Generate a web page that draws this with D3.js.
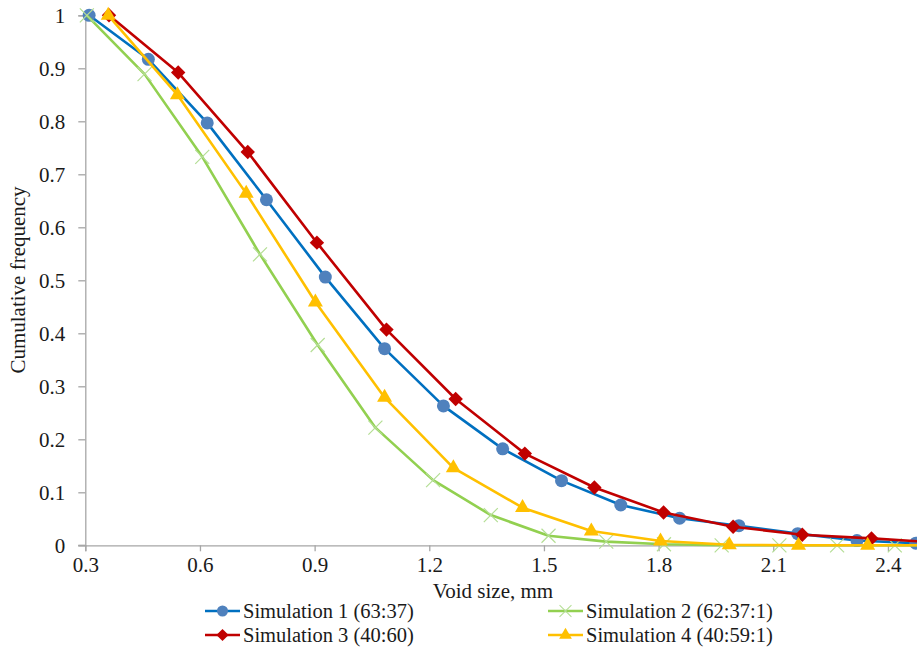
<!DOCTYPE html>
<html>
<head>
<meta charset="utf-8">
<script src="https://cdn.jsdelivr.net/npm/d3@7/dist/d3.min.js"></script>
<style>
  html, body { margin: 0; padding: 0; background: #fff; }
  svg { display: block; }
</style>
</head>
<body>
<svg id="chart" width="917" height="671"></svg>
<script>
// Void size (mm) and cumulative frequency for each simulation
const sim1X = [0.310, 0.465, 0.619, 0.774, 0.928, 1.083, 1.237, 1.392, 1.546, 1.701, 1.855, 2.010, 2.164, 2.319, 2.473];
const sim1Y = [1.000, 0.917, 0.797, 0.652, 0.506, 0.371, 0.263, 0.182, 0.122, 0.076, 0.051, 0.037, 0.022, 0.009, 0.004];

const sim2X = [0.304, 0.455, 0.606, 0.757, 0.908, 1.059, 1.210, 1.361, 1.512, 1.663, 1.814, 1.965, 2.116, 2.267, 2.418, 2.569];
const sim2Y = [1.000, 0.889, 0.733, 0.549, 0.378, 0.222, 0.123, 0.057, 0.018, 0.007, 0.002, 0.000, 0.000, 0.000, 0.000, 0.000];

const sim3X = [0.362, 0.543, 0.725, 0.906, 1.088, 1.269, 1.450, 1.632, 1.813, 1.995, 2.176, 2.357, 2.539];
const sim3Y = [1.000, 0.892, 0.742, 0.571, 0.407, 0.276, 0.173, 0.109, 0.062, 0.035, 0.020, 0.013, 0.005];

const sim4X = [0.360, 0.541, 0.721, 0.902, 1.083, 1.263, 1.444, 1.624, 1.805, 1.985, 2.166, 2.347, 2.527];
const sim4Y = [1.000, 0.850, 0.664, 0.459, 0.279, 0.146, 0.071, 0.027, 0.008, 0.001, 0.000, 0.000, 0.000];

const seriesNames = ["Simulation 1 (63:37)", "Simulation 2 (62:37:1)", "Simulation 3 (40:60)", "Simulation 4 (40:59:1)"];
const xTicks = [0.3, 0.6, 0.9, 1.2, 1.5, 1.8, 2.1, 2.4];
const yTicks = [0, 0.1, 0.2, 0.3, 0.4, 0.5, 0.6, 0.7, 0.8, 0.9, 1];
const xTitle = "Void size, mm";
const yTitle = "Cumulative frequency";

const FONT = "'Liberation Serif', 'Times New Roman', Times, 'DejaVu Serif', serif";
const TEXT_COLOR = "#1a1a1a";
const tickSize = 21;
const titleSize = 21;
const legendSize = 20.5;

const svg = d3.select("#chart");
const W = 917, H = 671;
svg.append("rect").attr("width", W).attr("height", H).attr("fill", "#fff");

const plot = { left: 85.3, top: 15.3, bottom: 545.3 };
const x = d3.scaleLinear().domain([0.3, 2.5]).range([plot.left, plot.left + 2.2 * 382.2]);
const y = d3.scaleLinear().domain([0, 1]).range([plot.bottom, plot.top]);

const axisColor = "#a6a6a6";

function styleText(sel, size) {
  sel.style("font-family", FONT).style("font-size", size + "px").style("fill", TEXT_COLOR);
}

// Axes
const gx = svg.append("g").attr("transform", `translate(0,${plot.bottom})`)
  .call(d3.axisBottom(x).tickValues(xTicks).tickSize(6).tickPadding(6).tickFormat(d3.format("")));
const gy = svg.append("g").attr("transform", `translate(${plot.left},0)`)
  .call(d3.axisLeft(y).tickValues(yTicks).tickSize(7).tickPadding(13).tickFormat(d => d === 0 || d === 1 ? String(d) : d3.format(".1f")(d)));

[gx, gy].forEach(g => {
  g.selectAll("path.domain").attr("stroke", axisColor).attr("stroke-width", 1.3);
  g.selectAll(".tick line").attr("stroke", axisColor).attr("stroke-width", 1.3);
  styleText(g.selectAll(".tick text"), tickSize);
});
// extend the x axis line left to meet the y ticks
gx.append("line").attr("x1", plot.left - 7).attr("x2", plot.left).attr("stroke", axisColor).attr("stroke-width", 1.3);

// Axis titles
styleText(svg.append("text").attr("x", 493).attr("y", 598).attr("text-anchor", "middle").text(xTitle), titleSize);
styleText(svg.append("text").attr("transform", "translate(25,280) rotate(-90)").attr("text-anchor", "middle").text(yTitle), titleSize);

// Marker shapes
const circlePath = d3.symbol().type(d3.symbolCircle).size(Math.PI * 6.5 * 6.5)();
const diamondPath = "M0,-7.2L7.2,0L0,7.2L-7.2,0Z";
const trianglePath = "M0,-8.6L7.5,4.4L-7.5,4.4Z";
const crossPath = "M-7,-7L7,7M-7,7L7,-7";

const series = [
  { name: seriesNames[0], xs: sim1X, ys: sim1Y, line: "#0070c0", marker: circlePath, fill: "#4f81bd", stroke: "none", sw: 0 },
  { name: seriesNames[1], xs: sim2X, ys: sim2Y, line: "#92d050", marker: crossPath, fill: "none", stroke: "#b4de95", sw: 1.2 },
  { name: seriesNames[2], xs: sim3X, ys: sim3Y, line: "#c00000", marker: diamondPath, fill: "#c00000", stroke: "none", sw: 0 },
  { name: seriesNames[3], xs: sim4X, ys: sim4Y, line: "#ffc000", marker: trianglePath, fill: "#ffc000", stroke: "none", sw: 0 }
];

const lineGen = d3.line().x(d => x(d[0])).y(d => y(d[1]));

series.forEach(s => {
  const pts = s.xs.map((v, i) => [v, s.ys[i]]);
  const g = svg.append("g");
  g.append("path").attr("d", lineGen(pts)).attr("fill", "none")
    .attr("stroke", s.line).attr("stroke-width", 2.6).attr("stroke-linejoin", "round");
  g.selectAll("path.m").data(pts).join("path").attr("class", "m")
    .attr("transform", d => `translate(${x(d[0])},${y(d[1])})`)
    .attr("d", s.marker).attr("fill", s.fill).attr("stroke", s.stroke).attr("stroke-width", s.sw);
});

// Legend
const legendPos = [[205, 611], [548, 611], [205, 635], [548, 635]];
series.forEach((s, i) => {
  const [lx, ly] = legendPos[i];
  const g = svg.append("g").attr("transform", `translate(${lx},${ly})`);
  g.append("line").attr("x1", 0).attr("x2", 35).attr("stroke", s.line).attr("stroke-width", 2.6);
  g.append("path").attr("transform", "translate(17.5,0) scale(0.85)").attr("d", s.marker)
    .attr("fill", s.fill).attr("stroke", s.stroke).attr("stroke-width", s.sw);
  styleText(g.append("text").attr("x", 38).attr("y", 0).attr("dy", "0.34em").text(s.name), legendSize);
});
</script>
</body>
</html>
